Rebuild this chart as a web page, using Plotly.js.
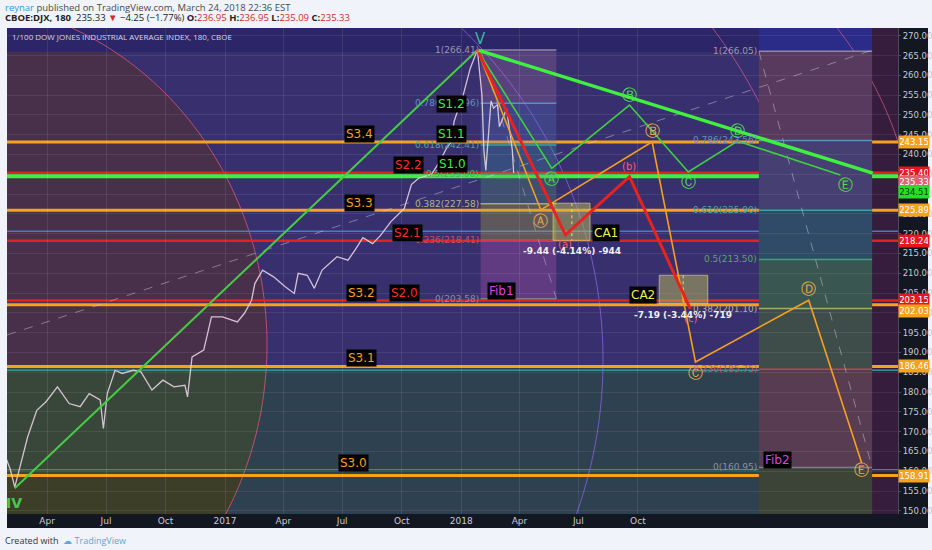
<!DOCTYPE html>
<html>
<head>
<meta charset="utf-8">
<script src="https://cdn.plot.ly/plotly-3.0.1.min.js"></script>
<style>
  html, body { margin: 0; padding: 0; background: #f0f3fa; }
  #chart { width: 932px; height: 550px; }
</style>
</head>
<body>
<div id="chart"></div>
<script>
// DJX (1/100 Dow) 180-min closes
var priceDates = ['2016-01-28','2016-02-04','2016-02-11','2016-02-20','2016-03-02','2016-03-16','2016-03-30',
  '2016-04-17','2016-05-05','2016-05-22','2016-06-05','2016-06-22','2016-06-27','2016-07-03','2016-07-15',
  '2016-07-26','2016-08-12','2016-08-24','2016-09-10','2016-09-27','2016-10-14','2016-10-31','2016-11-04',
  '2016-11-11','2016-11-29','2016-12-11','2016-12-28','2017-01-20','2017-01-31','2017-02-11','2017-02-16',
  '2017-02-28','2017-03-17','2017-04-04','2017-04-18','2017-04-24','2017-05-08','2017-05-19','2017-05-31',
  '2017-06-23','2017-07-10','2017-07-21','2017-08-02','2017-08-17','2017-08-29','2017-09-14','2017-09-25',
  '2017-10-05','2017-10-16','2017-10-27','2017-11-16','2017-11-28','2017-12-09','2017-12-17','2017-12-21',
  '2018-01-04','2018-01-15','2018-01-26','2018-02-02','2018-02-05','2018-02-08','2018-02-11','2018-02-16',
  '2018-02-20','2018-02-26','2018-03-01','2018-03-06','2018-03-12','2018-03-17','2018-03-21','2018-03-23'];
var priceValues = [163.5,160.5,156.0,162.0,168.7,175.4,177.5,
  181.3,177.1,176.3,179.6,178.0,170.8,179.6,185.5,
  184.7,185.5,185.1,180.5,183.0,181.3,181.7,178.8,
  188.9,190.6,199.0,199.0,197.7,199.9,203.2,207.4,
  210.8,209.1,206.6,204.9,210.0,209.5,206.2,210.8,
  214.2,213.3,215.9,219.0,217.5,219.5,223.0,224.8,
  226.4,232.4,234.0,235.0,238.0,241.5,243.4,248.4,
  255.0,261.8,266.4,255.0,241.0,236.0,242.0,253.5,
  251.7,252.6,247.0,249.0,251.5,246.0,241.0,235.33];

// wave counts
var impulseDates = ['2016-02-11','2018-01-26'];
var impulseValues = [155.7, 266.4];
var triangleEdgeDates = ['2018-01-28','2019-09-29'];
var triangleEdgeValues = [266.3, 235.3];
var greenWaveDates = ['2018-01-26','2018-05-21','2018-09-18','2018-12-18','2019-03-04','2019-08-10'];
var greenWaveValues = [266.4, 236.5, 252.5, 235.6, 243.4, 234.8];
var orangeWaveDates = ['2018-01-26','2018-05-04','2018-10-23','2018-12-29','2019-06-22','2019-09-12'];
var orangeWaveValues = [266.4, 226.0, 243.2, 187.6, 203.2, 162.0];
var redWaveDates = ['2018-01-26','2018-06-11','2018-09-18','2018-12-21'];
var redWaveValues = [266.4, 219.7, 234.4, 201.0];
var waveLetters = ['A','B','C','D','E'];
var redLetters = ['(a)','(b)','(c)'];

// horizontal support / resistance
var orangeLevels = [243.15, 225.89, 202.03, 186.46, 158.91];
var redLevels = [235.40, 218.24, 203.15];
var greenLevels = [234.51];
var thinLevels = [220.6, 185.5, 160.4];
var lastPrice = 235.33;

// fib retracements
var fibRatios = ['1','0.786','0.618','0.5','0.382','0.236','0'];
var fib1Dates = ['2018-01-31','2018-05-28'];
var fib1Values = [266.41, 252.96, 242.41, 235.00, 227.58, 218.41, 203.58];
var fib2Dates = ['2019-04-06','2019-09-28'];
var fib2Values = [266.05, 243.56, 225.90, 213.50, 201.10, 185.75, 160.95];

// long dashed trend line
var dashTrendDates = ['2016-01-30','2019-09-29'];
var dashTrendValues = [194.4, 266.4];

// correction measurements
var ca1Dates = ['2018-05-23','2018-07-19'];
var ca1Values = [227.7, 218.3];
var ca2Dates = ['2018-11-03','2019-01-17'];
var ca2Values = [209.5, 202.3];
var caMidDates = ['2018-06-21','2018-12-10'];
var caTexts = ['-9.44 (-4.14%) -944', '-7.19 (-3.44%) -719'];

var xTickDates = ['2016-04-01','2016-07-01','2016-10-01','2017-01-01','2017-04-01','2017-07-01',
  '2017-10-01','2018-01-01','2018-04-01','2018-07-01','2018-10-01'];
var xTickLabels = ['Apr','Jul','Oct','2017','Apr','Jul','Oct','2018','Apr','Jul','Oct'];

// ---------- drawing ----------
var ORANGE = '#f7a11c', RED = '#e3211d', GREEN = '#3df03d';
var shapes = [];
var ann = [];

// pixel helpers for the decorative background (plot area 7..898 x 28..514)
function P(x) { return (x - 7) / 891; }
function Q(y) { return (514 - y) / 486; }
function rectPx(x0, y0, x1, y1, color) {
  shapes.push({type: 'rect', xref: 'paper', yref: 'paper', x0: P(x0), x1: P(x1), y0: Q(y1), y1: Q(y0),
    fillcolor: color, line: {width: 0}, layer: 'below'});
}
function toPath(pts, close) {
  return pts.map(function (p, i) { return (i ? 'L' : 'M') + P(p[0]).toFixed(4) + ',' + Q(p[1]).toFixed(4); }).join(' ') + (close ? ' Z' : '');
}
function ellipseBand(cx, cy, rx, ry, yTop, yBot, color) {
  var pts = [[7, yTop]];
  for (var i = 0; i <= 60; i++) {
    var y = yTop + (yBot - yTop) * i / 60, t = (y - cy) / ry;
    if (Math.abs(t) > 1) continue;
    pts.push([cx + rx * Math.sqrt(1 - t * t), y]);
  }
  pts.push([7, yBot]);
  shapes.push({type: 'path', xref: 'paper', yref: 'paper', path: toPath(pts, true), fillcolor: color, line: {width: 0}, layer: 'below'});
}
function arc(cx, cy, rx, ry, yTop, yBot, color) {
  var pts = [];
  for (var i = 0; i <= 90; i++) {
    var y = yTop + (yBot - yTop) * i / 90, t = (y - cy) / ry;
    if (Math.abs(t) > 1) continue;
    var x = cx + rx * Math.sqrt(1 - t * t);
    if (x < 7 || x > 898) continue;
    pts.push([x, y]);
  }
  shapes.push({type: 'path', xref: 'paper', yref: 'paper', path: toPath(pts, false), fillcolor: 'rgba(0,0,0,0)',
    line: {color: color, width: 1}, layer: 'below'});
}

// dark frame for axes
shapes.push({type: 'rect', xref: 'paper', yref: 'paper', x0: 0, x1: P(928), y0: Q(528), y1: 0, fillcolor: '#131722', line: {width: 0}, layer: 'below'});
shapes.push({type: 'rect', xref: 'paper', yref: 'paper', x0: 1, x1: P(928), y0: Q(528), y1: 1, fillcolor: '#131722', line: {width: 0}, layer: 'below'});

// background regions
rectPx(7, 52, 759, 367, '#38306e');
rectPx(7, 367, 759, 514, '#2d4150');
ellipseBand(-55, 345, 322, 345, 52, 367, '#48304a');
ellipseBand(-55, 345, 322, 345, 367, 476, '#39473a');
ellipseBand(-55, 345, 322, 345, 476, 514, '#3c3e27');
rectPx(759, 28, 872, 52, '#2b2b88');
rectPx(872, 28, 898, 514, '#361d3e');
arc(-55, 345, 322, 345, 28, 514, 'rgba(220,85,115,0.8)');
arc(143, 360, 460, 460, 28, 514, 'rgba(140,95,225,0.8)');
arc(314, 330, 500, 500, 28, 514, 'rgba(215,85,145,0.75)');
arc(540, 260, 377, 377, 28, 200, 'rgba(215,85,145,0.75)');

// fib bands
var fib1Bands = ['rgba(180,120,170,0.25)','rgba(90,125,210,0.25)','rgba(60,150,170,0.28)',
  'rgba(80,170,120,0.25)','rgba(175,175,60,0.32)','rgba(200,90,180,0.28)'];
var fib2Bands = ['#573a5d','#463f72','#2f4b68','#3a5650','#3f4d4a','#573c52'];
var fibLineColors = ['#8c8aa0','#5b8fc0','#3f9f9a','#45a35c','#a4ad70','#c8404f','#7d7d92'];
var fibTextColors = ['#9a98ae','#5f92c2','#4aa5a0','#4fae66','#b2b48a','#c8505e','#8e8ea2'];
for (var i = 0; i < 6; i++) {
  shapes.push({type: 'rect', xref: 'x', yref: 'y', x0: fib1Dates[0], x1: fib1Dates[1], y0: fib1Values[i + 1], y1: fib1Values[i],
    fillcolor: fib1Bands[i], line: {width: 0}, layer: 'below'});
  shapes.push({type: 'rect', xref: 'x', yref: 'y', x0: fib2Dates[0], x1: fib2Dates[1], y0: fib2Values[i + 1], y1: fib2Values[i],
    fillcolor: fib2Bands[i], line: {width: 0}, layer: 'below'});
}
shapes.push({type: 'rect', xref: 'x', yref: 'y', x0: fib2Dates[0], x1: fib2Dates[1], y0: 140, y1: fib2Values[6],
  fillcolor: '#3c4438', line: {width: 0}, layer: 'below'});

function fibLines(dates, values) {
  for (var i = 0; i < values.length; i++) {
    shapes.push({type: 'line', xref: 'x', yref: 'y', x0: dates[0], x1: dates[1], y0: values[i], y1: values[i],
      line: {color: fibLineColors[i], width: 1.5}, layer: 'between'});
    ann.push({x: dates[0], y: values[i], xref: 'x', yref: 'y', xanchor: 'right', yanchor: 'middle', showarrow: false,
      text: fibRatios[i] + '(' + values[i].toFixed(2) + ')', font: {size: 9, color: fibTextColors[i]}});
  }
}
fibLines(fib1Dates, fib1Values);
fibLines(fib2Dates, fib2Values);

// correction boxes
[[ca1Dates, ca1Values], [ca2Dates, ca2Values]].forEach(function (c) {
  shapes.push({type: 'rect', xref: 'x', yref: 'y', x0: c[0][0], x1: c[0][1], y0: c[1][1], y1: c[1][0],
    fillcolor: 'rgba(185,185,85,0.5)', line: {color: 'rgba(210,210,120,0.7)', width: 1}, layer: 'between'});
});

// horizontal levels
function hline(v, color, w) {
  shapes.push({type: 'line', xref: 'paper', yref: 'y', x0: 0, x1: 1, y0: v, y1: v, line: {color: color, width: w}, layer: 'between'});
}
var thinColors = ['#3f7fbf', '#3f8f9c', '#3f9062'];
thinLevels.forEach(function (v, i) { hline(v, thinColors[i], 1.4); });
orangeLevels.forEach(function (v) { hline(v, ORANGE, 3); });
redLevels.forEach(function (v) { hline(v, RED, 2.5); });
greenLevels.forEach(function (v) { hline(v, GREEN, 4); });

// traces
var traces = [];
function line(x, y, color, w, dash) {
  traces.push({type: 'scatter', mode: 'lines', x: x, y: y, line: {color: color, width: w, dash: dash || 'solid'}, hoverinfo: 'skip'});
}
line(dashTrendDates, dashTrendValues, 'rgba(215,215,230,0.45)', 1, 'dash');
line([fib1Dates[0], fib1Dates[1]], [fib1Values[0], fib1Values[6]], 'rgba(215,215,230,0.4)', 1, 'dash');
line([fib2Dates[0], fib2Dates[1]], [fib2Values[0], fib2Values[6]], 'rgba(215,215,230,0.45)', 1, 'dash');
line([caMidDates[0], caMidDates[0]], ca1Values, '#e6e060', 1, 'dot');
line([caMidDates[1], caMidDates[1]], ca2Values, '#e6e060', 1, 'dot');
line(priceDates, priceValues, 'rgba(228,208,225,0.9)', 1.3);
line(impulseDates, impulseValues, '#45cc45', 2);
line(orangeWaveDates, orangeWaveValues, '#f5a01e', 1.6);
line(greenWaveDates, greenWaveValues, '#3fd13f', 1.6);
line(redWaveDates, redWaveValues, '#e8231f', 3);
line(triangleEdgeDates, triangleEdgeValues, '#40f040', 3.5);

// wave labels
var circled = {A: '\u24B6', B: '\u24B7', C: '\u24B8', D: '\u24B9', E: '\u24BA'};
var greenShift = [-11, 10, -10, 10, -10];
var orangeShift = [-11, 11, -11, 11, -7];
var redShift = [-10, 10, -10];
for (var k = 0; k < 5; k++) {
  ann.push({x: greenWaveDates[k + 1], y: greenWaveValues[k + 1], showarrow: false, yshift: greenShift[k], xshift: k === 4 ? 5 : 0,
    text: circled[waveLetters[k]], font: {size: 15, color: '#4ee04e'}});
  ann.push({x: orangeWaveDates[k + 1], y: orangeWaveValues[k + 1], showarrow: false, yshift: orangeShift[k],
    text: circled[waveLetters[k]], font: {size: 15, color: '#e9ad4c'}});
}
for (var k2 = 0; k2 < 3; k2++) {
  ann.push({x: redWaveDates[k2 + 1], y: redWaveValues[k2 + 1], showarrow: false, yshift: redShift[k2],
    text: redLetters[k2], font: {size: 10, color: '#ff5a70'}});
}
ann.push({x: impulseDates[1], y: impulseValues[1], showarrow: false, yshift: 11, xshift: 3, text: 'V',
  font: {size: 15, color: '#35b5a0', family: 'DejaVu Sans'}});
ann.push({x: impulseDates[0], y: impulseValues[0], showarrow: false, yshift: -15, xshift: -1, text: '<b>IV</b>',
  font: {size: 14, color: '#4cc74c'}});

// measurement texts
caTexts.forEach(function (t, i) {
  var v = i === 0 ? ca1Values[1] : ca2Values[1];
  ann.push({x: caMidDates[i], y: v, showarrow: false, yshift: -11, text: '<b>' + t + '</b>', font: {size: 9, color: '#f0f0f0'}});
});

// boxed level labels
function tag(text, x, y, color) {
  ann.push({x: x, y: y, showarrow: false, text: text, bgcolor: '#000000', borderpad: 1,
    font: {size: 12, color: color, family: 'DejaVu Sans'}});
}
tag('S3.4', '2017-07-27', 245.2, ORANGE);
tag('S3.3', '2017-07-27', 227.7, ORANGE);
tag('S3.2', '2017-07-31', 205.0, ORANGE);
tag('S3.1', '2017-07-31', 188.6, ORANGE);
tag('S3.0', '2017-07-18', 162.2, ORANGE);
tag('S2.2', '2017-10-11', 237.3, '#ff2a2a');
tag('S2.1', '2017-10-10', 220.1, '#ff2a2a');
tag('S2.0', '2017-10-05', 205.0, '#ff2a2a');
tag('S1.2', '2017-12-17', 252.75, '#3df03d');
tag('S1.1', '2017-12-17', 245.2, '#3df03d');
tag('S1.0', '2017-12-18', 237.7, '#3df03d');
tag('CA1', '2018-08-13', 220.1, '#f2f24a');
tag('CA2', '2018-10-09', 204.5, '#f2f24a');
tag('Fib1', '2018-03-04', 205.5, '#e040e0');
tag('Fib2', '2019-05-04', 162.8, '#e040e0');

// price boxes on the axis
var boxValues = [orangeLevels[0], redLevels[0], lastPrice, greenLevels[0], orangeLevels[1], redLevels[1],
  redLevels[2], orangeLevels[2], orangeLevels[3], orangeLevels[4]];
var boxColors = [ORANGE, '#e8161b', '#e4606e', '#22e022', ORANGE, '#e8161b', '#e8161b', ORANGE, ORANGE, ORANGE];
var boxShift = [0, 0, -9, -16, 0, 0, 0, -6, 0, 0];
boxValues.forEach(function (v, i) {
  ann.push({xref: 'paper', x: 1, xanchor: 'left', y: v, yref: 'y', yshift: boxShift[i], showarrow: false,
    text: v.toFixed(2), bgcolor: boxColors[i], borderpad: 1, width: 28,
    font: {size: 8.5, color: i === 3 ? '#0b3d0b' : '#ffffff'}});
});

// header, title, footer
ann.push({xref: 'paper', yref: 'paper', x: P(3), y: Q(7), xanchor: 'left', yanchor: 'middle', showarrow: false,
  text: '<span style="color:#2f9be6">reynar</span> published on TradingView.com, March 24, 2018 22:36 EST',
  font: {size: 9.5, color: '#4a4a4a', family: 'Open Sans'}});
ann.push({xref: 'paper', yref: 'paper', x: P(3), y: Q(18), xanchor: 'left', yanchor: 'middle', showarrow: false,
  text: '<b>CBOE:DJX, 180</b>  235.33 <span style="color:#d22b2b">\u25BC</span> \u22124.25 (\u22121.77%) ' +
    '<b>O:</b><span style="color:#d22b2b">236.95</span> <b>H:</b><span style="color:#d22b2b">236.95</span> ' +
    '<b>L:</b><span style="color:#d22b2b">235.09</span> <b>C:</b><span style="color:#d22b2b">235.33</span>',
  font: {size: 9.5, color: '#222222', family: 'Open Sans'}});
ann.push({xref: 'paper', yref: 'paper', x: P(10), y: Q(37), xanchor: 'left', yanchor: 'middle', showarrow: false,
  text: '1/100 DOW JONES INDUSTRIAL AVERAGE INDEX, 180, CBOE', font: {size: 8, color: '#d8d6ea', family: 'Open Sans'}});
ann.push({xref: 'paper', yref: 'paper', x: P(3), y: Q(540), xanchor: 'left', yanchor: 'middle', showarrow: false,
  text: 'Created with  <span style="color:#5aa8d8">\u2601 TradingView</span>', font: {size: 9, color: '#333333', family: 'Open Sans'}});

var layout = {
  width: 932, height: 550,
  margin: {l: 7, r: 34, t: 28, b: 36},
  paper_bgcolor: '#f0f3fa',
  plot_bgcolor: '#2c2567',
  showlegend: false,
  hovermode: false,
  font: {family: 'DejaVu Sans', color: '#c8cad3'},
  xaxis: {type: 'date', range: ['2016-01-30', '2019-11-07'], tickvals: xTickDates, ticktext: xTickLabels,
    showgrid: true, gridcolor: 'rgba(255,255,255,0.09)', zeroline: false, showline: false, ticks: '',
    tickfont: {size: 9, color: '#c8cad3'}, fixedrange: true},
  yaxis: {side: 'right', range: [149.2, 271.95], dtick: 5, tick0: 150, tickformat: '.2f', automargin: false,
    showgrid: true, gridcolor: 'rgba(255,255,255,0.08)', zeroline: false, showline: true, linecolor: '#4a4d58',
    ticks: 'outside', ticklen: 2, tickcolor: '#4a4d58', tickfont: {size: 8.5, color: '#c8cad3'}, fixedrange: true},
  shapes: shapes,
  annotations: ann
};

Plotly.newPlot('chart', traces, layout, {displayModeBar: false, staticPlot: true});
</script>
</body>
</html>
